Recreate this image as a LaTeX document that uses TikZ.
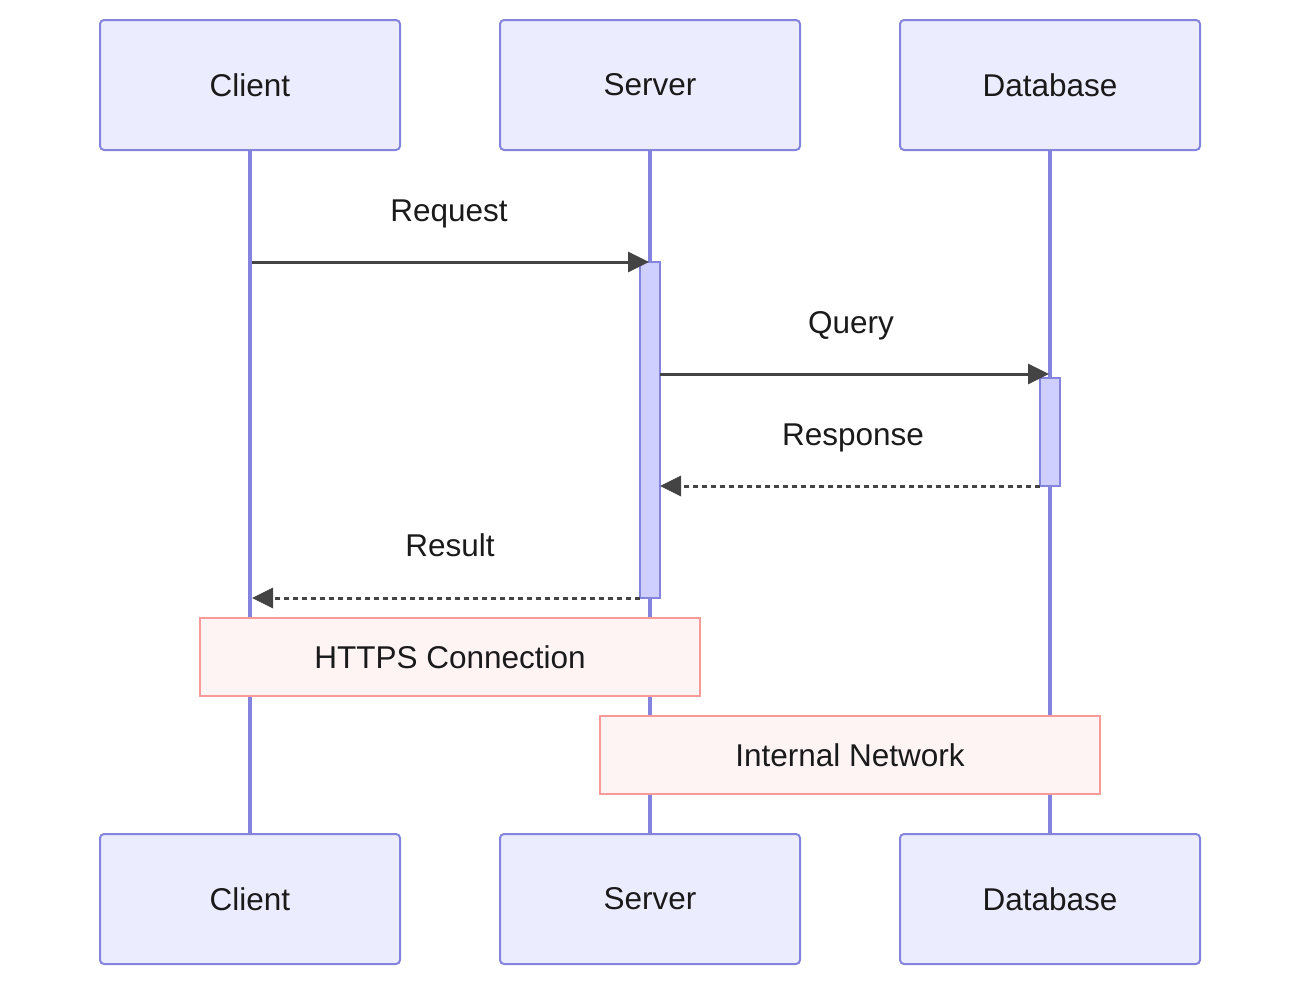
\documentclass[tikz,border=0pt]{standalone}
\usepackage{fontspec}
\setmainfont{Liberation Sans}
\usetikzlibrary{arrows.meta}
\definecolor{actfill}{HTML}{ECECFF}
\definecolor{actline}{HTML}{8484DE}
\definecolor{barfill}{HTML}{CFCFFF}
\definecolor{notefill}{HTML}{FFF4F4}
\definecolor{noteline}{HTML}{F99A9A}
\definecolor{msgline}{HTML}{444444}
\definecolor{txt}{HTML}{1A1A1A}
\tikzset{
  actorbox/.style={draw=actline, fill=actfill, line width=2pt, rounded corners=4pt,
    minimum width=300pt, minimum height=130pt, inner sep=0pt, outer sep=0pt,
    text=txt, font=\fontsize{31.5}{36}\selectfont},
  lifeline/.style={draw=actline, line width=3.5pt},
  actbar/.style={draw=actline, fill=barfill, line width=2pt, inner sep=0pt, outer sep=0pt, minimum width=20pt},
  notebox/.style={draw=noteline, fill=notefill, line width=2pt, minimum width=500pt,
    minimum height=78pt, inner sep=0pt, outer sep=0pt, text=txt, font=\fontsize{31.5}{36}\selectfont},
  msg/.style={draw=msgline, line width=3pt, -{Triangle[length=21pt,width=20pt]}},
  reply/.style={msg, dash pattern=on 5pt off 4pt},
  msglabel/.style={text=txt, font=\fontsize{31.5}{36}\selectfont, anchor=base, inner sep=0pt},
}
\begin{document}
\begin{tikzpicture}[x=1pt,y=-1pt]
\useasboundingbox (0,0) rectangle (1300,986);
% actors
\node[actorbox] (ct) at (250,85) {Client};
\node[actorbox] (st) at (650,85) {Server};
\node[actorbox] (dt) at (1050,85) {Database};
\node[actorbox] (cb) at (250,899) {Client};
\node[actorbox] (sb) at (650,899) {Server};
\node[actorbox] (db) at (1050,899) {Database};
% lifelines
\draw[lifeline] (ct.south) -- (cb.north);
\draw[lifeline] (st.south) -- (sb.north);
\draw[lifeline] (dt.south) -- (db.north);
% activation bars
\node[actbar, minimum height=336pt] (sa) at (650,430) {};
\node[actbar, minimum height=108pt] (da) at (1050,432) {};
% message anchor points
\coordinate (c1) at (252,262);
\coordinate (s1) at (649,262);
\coordinate (s2) at (660,374);
\coordinate (d2) at (1049,374);
\coordinate (s3) at (660,486);
\coordinate (c4) at (252,598);
% messages
\draw[msg] (c1) -- (s1);
\node[msglabel] (l1) at (449,221) {Request};
\draw[msg] (s2) -- (d2);
\node[msglabel] (l2) at (851,333) {Query};
\draw[reply] (da.south west) -- (s3);
\node[msglabel] (l3) at (853,445) {Response};
\draw[reply] (sa.south west) -- (c4);
\node[msglabel] (l4) at (450,556) {Result};
% notes
\node[notebox] (n1) at (450,657) {HTTPS Connection};
\node[notebox] (n2) at (850,755) {Internal Network};
\end{tikzpicture}
\end{document}
